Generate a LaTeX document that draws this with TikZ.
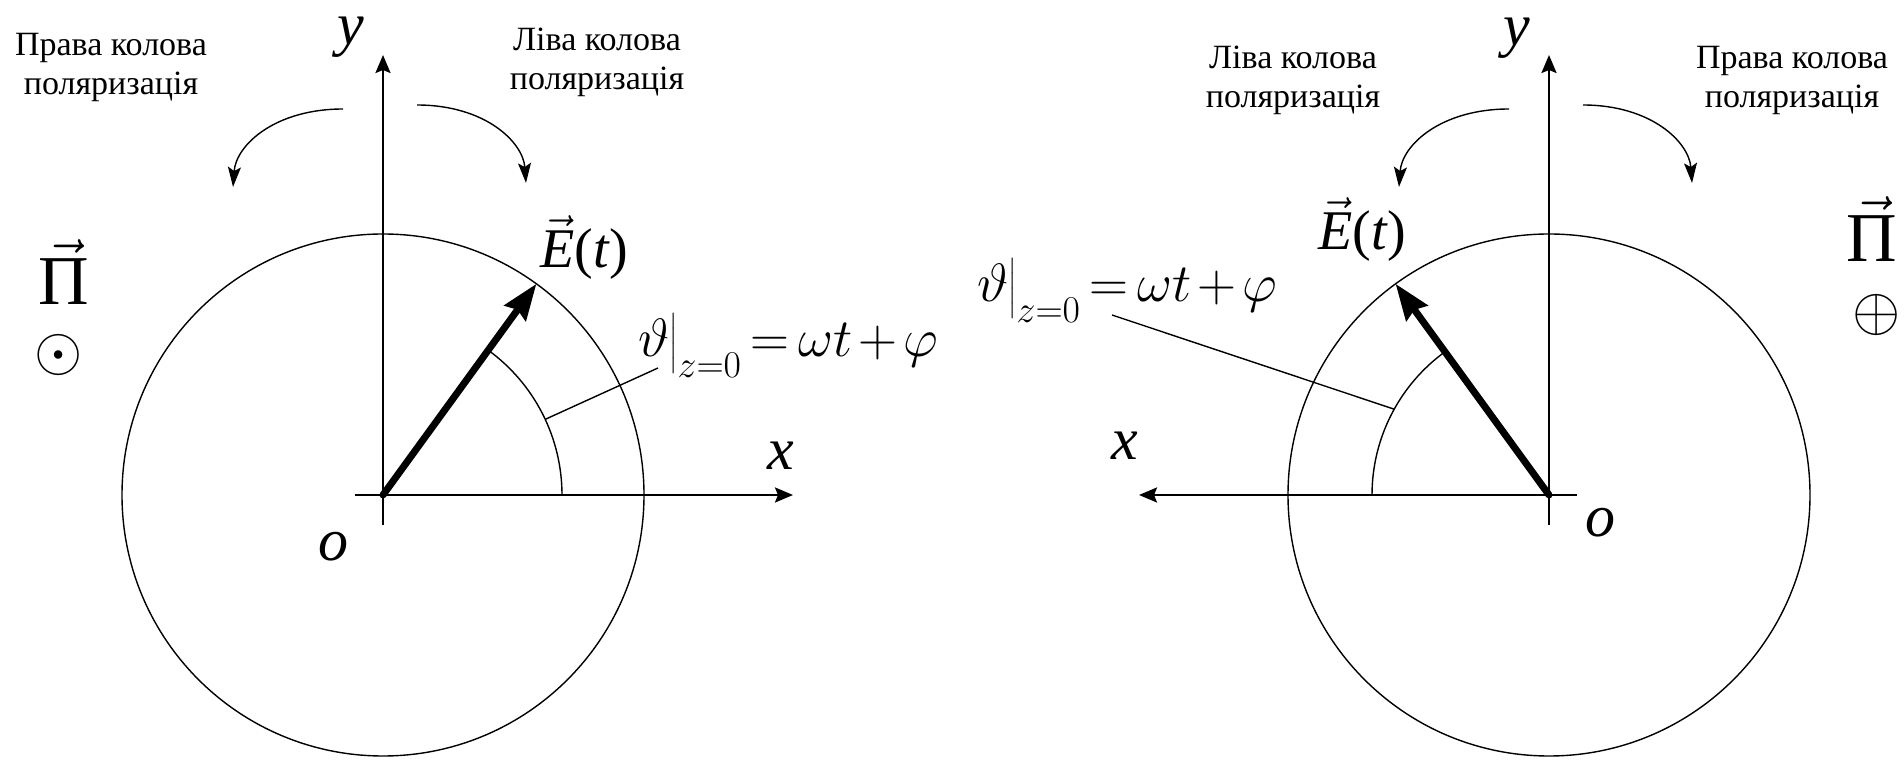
\RequirePackage{fix-cm}
\documentclass[tikz,border=0pt]{standalone}
\usepackage{amsmath}
\usepackage{fontspec}
\setmainfont{Liberation Serif}
\usetikzlibrary{arrows.meta}

\newcommand{\phaseeq}{$\thickmuskip=3mu\relax\medmuskip=2mu\relax
  \vartheta\big|_{z=0}=\omega t+\varphi$}

\tikzset{
  thinline/.style={line width=1.4pt},
  axis/.style={line width=2.4pt,-{Stealth[length=18pt,width=15pt,inset=3pt]}},
  evec/.style={line width=7pt,line cap=round,-{Stealth[length=36pt,width=26pt,inset=4pt]}},
  turn/.style={line width=1.4pt,-{Stealth[length=20pt,width=13pt,inset=4pt]}},
  lbl/.style={font=\fontsize{34}{39}\selectfont,align=center,inner sep=0pt},
  axlbl/.style={font=\fontsize{60}{70}\selectfont\itshape,inner sep=0pt},
  eqlbl/.style={font=\fontsize{54}{60}\selectfont,inner sep=0pt},
  elbl/.style={font=\fontsize{56}{64}\selectfont,inner sep=0pt},
  pilbl/.style={font=\fontsize{70}{80}\selectfont,inner sep=0pt},
  symlbl/.style={font=\fontsize{62}{70}\selectfont,inner sep=0pt}
}

\begin{document}
\begin{tikzpicture}[x=1pt,y=1pt]
\useasboundingbox (0,0) rectangle (1904,760);
\foreach \n/\ox/\s/\pa/\ar in {L/383/1/25/179,R/1549/-1/29/177}{
  % rotation arrows above the origin
  \begin{scope}[shift={(\ox,0)}]
    \coordinate (ta\n) at (-40,651);
    \coordinate (tb\n) at (-150,573);
    \coordinate (tc\n) at (34,655);
    \coordinate (td\n) at (143,577);
    \draw[turn] (ta\n) .. controls (-108,651) and (-147,615) .. (tb\n);
    \draw[turn] (tc\n) .. controls (102,655) and (140,618) .. (td\n);
  \end{scope}
  % axes, circle, field vector, angle
  \begin{scope}[shift={(\ox,265)},xscale=\s]
    \coordinate (O\n) at (0,0);
    \coordinate (yb\n) at (0,-30);
    \coordinate (yt\n) at (0,440);
    \coordinate (xb\n) at (-28,0);
    \coordinate (xt\n) at (410,0);
    \coordinate (E\n) at (54:261);
    \coordinate (A\n) at (\pa:\ar);
    \draw[thinline] (O\n) circle[radius=261];
    \draw[axis] (yb\n) -- (yt\n);
    \draw[axis] (xb\n) -- (xt\n);
    \draw[thinline] (\ar,0) arc[start angle=0,end angle=54,radius=\ar];
    \draw[evec] (O\n) -- (E\n);
  \end{scope}
}

% left picture
\node[lbl,anchor=north] (rpL) at (111,727) {Права колова\\поляризація};
\node[lbl,anchor=north] (lpL) at (597,732) {Ліва колова\\поляризація};
\node[axlbl,anchor=base] (yL) at (351,715) {y};
\node[axlbl,anchor=base] (xL) at (781,290) {x};
\node[axlbl] (oL) at (333,213) {o};
\node[elbl,anchor=base west] (etL) at (540,492) {$\vec{\textit{E}}$(\textit{t})};
\node[eqlbl,anchor=base west] (thL) at (638,403) {\phaseeq};
\node[pilbl,anchor=base] (piL) at (64,455) {$\vec{\text{Π}}$};
\node[symlbl] (dotL) at (59,405) {$\odot$};
\coordinate (PL) at (658,392);
\draw[thinline] (AL) -- (PL);

% right picture
\node[lbl,anchor=north] (lpR) at (1293,714) {Ліва колова\\поляризація};
\node[lbl,anchor=north] (rpR) at (1792,714) {Права колова\\поляризація};
\node[axlbl,anchor=base] (yR) at (1517,714) {y};
\node[axlbl,anchor=base] (xR) at (1125,300) {x};
\node[axlbl] (oR) at (1600,237) {o};
\node[elbl,anchor=base west] (etR) at (1318,510) {$\vec{\textit{E}}$(\textit{t})};
\node[eqlbl,anchor=base west] (thR) at (977,458) {\phaseeq};
\node[pilbl,anchor=base] (piR) at (1872,498) {$\vec{\text{Π}}$};
\node[symlbl] (plusR) at (1877,445) {$\oplus$};
\coordinate (PR) at (1112,445);
\draw[thinline] (AR) -- (PR);
\end{tikzpicture}
\end{document}
